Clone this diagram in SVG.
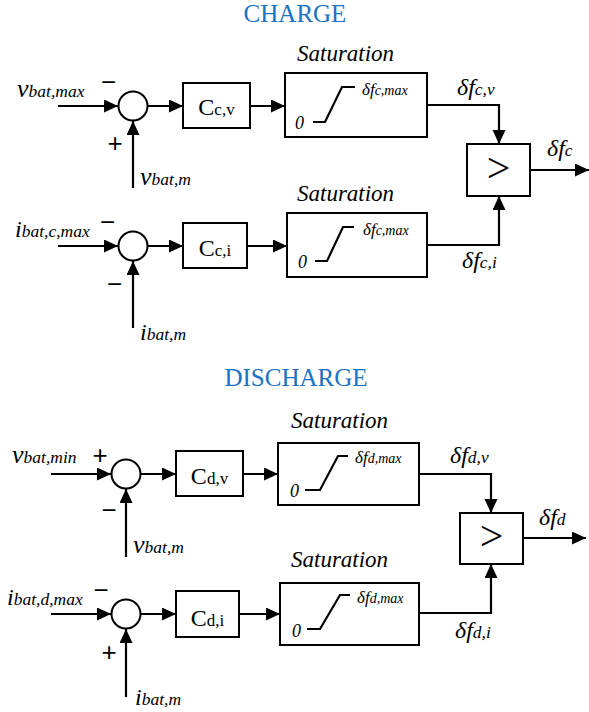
<svg xmlns="http://www.w3.org/2000/svg" width="589" height="712" viewBox="0 0 589 712">
<style>
text{font-family:"Liberation Serif","Times New Roman",serif;fill:#000}
.title{font-size:25px;fill:#1a72c4}
.it{font-style:italic}
.big{font-size:26px}
.bigi{font-size:24px}
.sub{font-size:17.5px}
.sat{font-size:23px;font-style:italic}
.zero{font-size:18px;font-style:italic}
.dm{font-size:17px}
.ds{font-size:14px}
.sign{font-family:"Liberation Sans",Arial,sans-serif;font-size:26px;text-anchor:middle}
.cmp{font-size:42px;text-anchor:middle}
.box{fill:#fff;stroke:#000;stroke-width:2}
.ln{fill:none;stroke:#000;stroke-width:2.2}
.ar{fill:none;stroke:#000;stroke-width:2.2;marker-end:url(#ah)}
</style>
<defs>
<marker id="ah" markerUnits="userSpaceOnUse" markerWidth="16" markerHeight="14" refX="14" refY="6.5" orient="auto">
<path d="M0,0 L14,6.5 L0,13 Z" fill="#000"/>
</marker>
</defs>
<rect width="589" height="712" fill="#fff"/>

<text class="title" x="295" y="22" text-anchor="middle">CHARGE</text>
<text class="title" x="296" y="386" text-anchor="middle">DISCHARGE</text>

<g id="connectors">
<path class="ar" d="M58,106 H118"/>
<path class="ar" d="M147,106 H183"/>
<path class="ar" d="M250,106 H285"/>
<path class="ar" d="M133,188 V121"/>
<path class="ar" d="M427,105 H499 V144"/>
<path class="ar" d="M58,246 H118"/>
<path class="ar" d="M147,246 H183"/>
<path class="ar" d="M247,246 H287"/>
<path class="ar" d="M133,328 V261"/>
<path class="ar" d="M427,245 H499 V196"/>
<path class="ar" d="M530,170 H589"/>
<path class="ar" d="M51,474 H111"/>
<path class="ar" d="M140,474 H176"/>
<path class="ar" d="M243,474 H278"/>
<path class="ar" d="M126,557 V489"/>
<path class="ar" d="M419,474 H491 V513"/>
<path class="ar" d="M51,614 H111"/>
<path class="ar" d="M140,614 H176"/>
<path class="ar" d="M239,614 H280"/>
<path class="ar" d="M126,697 V629"/>
<path class="ar" d="M419,613 H491 V564"/>
<path class="ar" d="M523,538 H586"/>
</g>

<!-- CHARGE -->
<g id="in_vbatmax"><text class="it" x="17" y="97"><tspan class="big">v</tspan><tspan class="sub">bat,max</tspan></text></g>
<g id="sum_c1">
<circle cx="133" cy="106" r="14.5" class="box"/>
<text class="sign" x="108.5" y="90.5">−</text>
<text class="sign" x="115" y="152">+</text>
</g>
<g id="in_vbatm_c"><text class="it" x="140" y="185"><tspan class="big">v</tspan><tspan class="sub">bat,m</tspan></text></g>
<g id="ccv"><rect class="box" x="183" y="83" width="67" height="45"/>
<text x="216.5" y="115" text-anchor="middle"><tspan font-size="24">C</tspan><tspan font-size="17">c,v</tspan></text></g>
<g id="satc1"><text class="sat" x="297" y="61">Saturation</text>
<rect class="box" x="285" y="73" width="142" height="64"/>
<text class="zero" x="295" y="129">0</text>
<polyline class="ln" points="313,122 325,122 342,87 355,87"/>
<text class="it" x="362" y="95"><tspan class="dm">δf</tspan><tspan class="ds">c,max</tspan></text></g>
<g id="lbl_dfcv"><text class="it" x="457" y="95"><tspan class="bigi">δf</tspan><tspan class="sub">c,v</tspan></text></g>

<g id="in_ibatcmax"><text class="it" x="15" y="237"><tspan class="bigi">i</tspan><tspan class="sub">bat,c,max</tspan></text></g>
<g id="sum_c2">
<circle cx="133" cy="246" r="14.5" class="box"/>
<text class="sign" x="107.5" y="230.5">−</text>
<text class="sign" x="114.5" y="292.5">−</text>
</g>
<g id="in_ibatm_c"><text class="it" x="140" y="340"><tspan class="bigi">i</tspan><tspan class="sub">bat,m</tspan></text></g>
<g id="cci"><rect class="box" x="183" y="223" width="64" height="45"/>
<text x="215" y="256" text-anchor="middle"><tspan font-size="24">C</tspan><tspan font-size="17">c,i</tspan></text></g>
<g id="satc2"><text class="sat" x="297" y="201">Saturation</text>
<rect class="box" x="287" y="213" width="140" height="64"/>
<text class="zero" x="298" y="268">0</text>
<polyline class="ln" points="315,261 327,261 343,227 354,227"/>
<text class="it" x="363" y="235"><tspan class="dm">δf</tspan><tspan class="ds">c,max</tspan></text></g>
<g id="lbl_dfci"><text class="it" x="462" y="268"><tspan class="bigi">δf</tspan><tspan class="sub">c,i</tspan></text></g>

<g id="cmp_c"><rect class="box" x="467" y="144" width="63" height="52"/>
<text class="cmp" x="498.5" y="182">&gt;</text></g>
<g id="lbl_dfc"><text class="it" x="547" y="156"><tspan class="bigi">δf</tspan><tspan class="sub">c</tspan></text></g>

<!-- DISCHARGE -->
<g id="in_vbatmin"><text class="it" x="12" y="463"><tspan class="big">v</tspan><tspan class="sub">bat,min</tspan></text></g>
<g id="sum_d1">
<circle cx="126" cy="474" r="14.5" class="box"/>
<text class="sign" x="100" y="464">+</text>
<text class="sign" x="109" y="518.5">−</text>
</g>
<g id="in_vbatm_d"><text class="it" x="133" y="553"><tspan class="big">v</tspan><tspan class="sub">bat,m</tspan></text></g>
<g id="cdv"><rect class="box" x="176" y="451" width="67" height="45"/>
<text x="209.5" y="484" text-anchor="middle"><tspan font-size="24">C</tspan><tspan font-size="17">d,v</tspan></text></g>
<g id="satd1"><text class="sat" x="291" y="428">Saturation</text>
<rect class="box" x="278" y="443" width="141" height="62"/>
<text class="zero" x="290" y="497">0</text>
<polyline class="ln" points="305,490 320,490 338,456 348,456"/>
<text class="it" x="355" y="463"><tspan class="dm">δf</tspan><tspan class="ds">d,max</tspan></text></g>
<g id="lbl_dfdv"><text class="it" x="450" y="463"><tspan class="bigi">δf</tspan><tspan class="sub">d,v</tspan></text></g>

<g id="in_ibatdmax"><text class="it" x="7" y="605"><tspan class="bigi">i</tspan><tspan class="sub">bat,d,max</tspan></text></g>
<g id="sum_d2">
<circle cx="126" cy="614" r="14.5" class="box"/>
<text class="sign" x="101" y="598.5">−</text>
<text class="sign" x="109" y="661">+</text>
</g>
<g id="in_ibatm_d"><text class="it" x="135" y="705"><tspan class="bigi">i</tspan><tspan class="sub">bat,m</tspan></text></g>
<g id="cdi"><rect class="box" x="176" y="591" width="63" height="46"/>
<text x="207.5" y="626" text-anchor="middle"><tspan font-size="24">C</tspan><tspan font-size="17">d,i</tspan></text></g>
<g id="satd2"><text class="sat" x="291" y="567">Saturation</text>
<rect class="box" x="280" y="583" width="139" height="62"/>
<text class="zero" x="292" y="637">0</text>
<polyline class="ln" points="307,629 320,629 340,595 350,595"/>
<text class="it" x="357" y="603"><tspan class="dm">δf</tspan><tspan class="ds">d,max</tspan></text></g>
<g id="lbl_dfdi"><text class="it" x="455" y="638"><tspan class="bigi">δf</tspan><tspan class="sub">d,i</tspan></text></g>

<g id="cmp_d"><rect class="box" x="460" y="513" width="63" height="51"/>
<text class="cmp" x="491.5" y="550">&gt;</text></g>
<g id="lbl_dfd"><text class="it" x="539" y="525"><tspan class="bigi">δf</tspan><tspan class="sub">d</tspan></text></g>
</svg>
